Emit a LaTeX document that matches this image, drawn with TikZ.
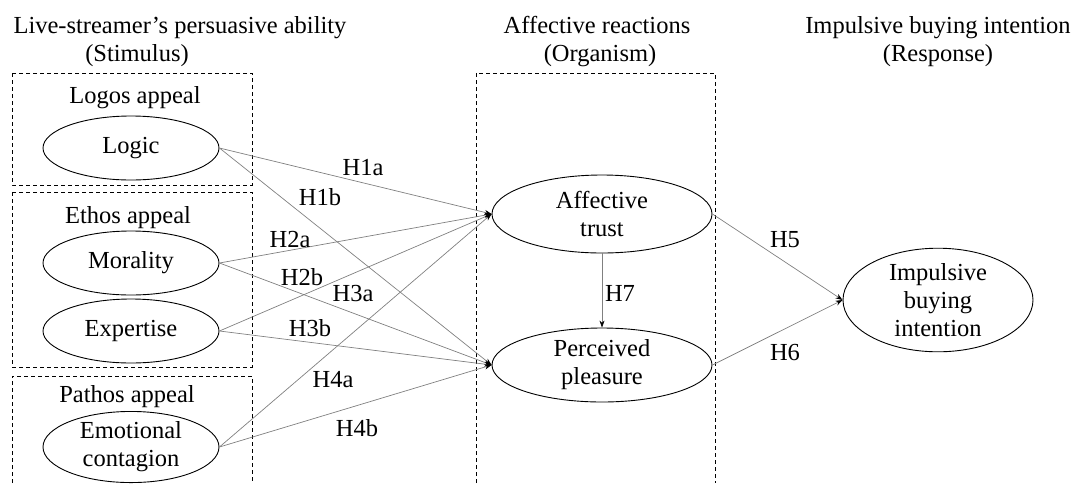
\documentclass[tikz,border=0pt]{standalone}
\usepackage{fontspec}
\setmainfont{Liberation Serif}
\usetikzlibrary{arrows.meta,positioning,shapes.geometric}
\definecolor{Ink}{HTML}{000000}
\definecolor{LinkGray}{HTML}{808080}
\tikzset{
  construct/.style={
    ellipse, draw=Ink, line width=0.9pt, inner sep=0pt,
    minimum width=176pt, minimum height=64pt, align=center
  },
  appeal/.style={draw=Ink, dash pattern=on 4pt off 3pt, line width=0.8pt},
  heading/.style={anchor=base, inner sep=0pt},
  hyp/.style={inner sep=0pt},
  link/.style={-{Stealth[length=7pt,width=5pt,color=Ink]}, draw=LinkGray, line width=0.7pt}
}

\begin{document}
\begin{tikzpicture}[x=1pt,y=-1pt,font=\fontsize{24.5}{28}\selectfont]
    \useasboundingbox (0,0) rectangle (1075,483);
    % headings
    \node[heading] (stimT) at (180,33) {Live-streamer’s persuasive ability};
    \node[heading] (stimS) at (137,61) {(Stimulus)};
    \node[heading] (orgT) at (597,33) {Affective reactions};
    \node[heading] (orgS) at (600,61) {(Organism)};
    \node[heading] (respT) at (938,33) {Impulsive buying intention};
    \node[heading] (respS) at (938,61) {(Response)};
    % dashed groups
    \draw[appeal] (12,73) rectangle (252,185);
    \draw[appeal] (12,192) rectangle (252,367);
    \draw[appeal] (12,483) |- (252,376) -- (252,483);
    \draw[appeal] (476,483) |- (715,73) -- (715,483);
    \node[heading] (logos) at (135,103) {Logos appeal};
    \node[heading] (ethos) at (128,223) {Ethos appeal};
    \node[heading] (pathos) at (127,402) {Pathos appeal};
    % constructs
    \node[construct] (logic) at (131,148) {Logic};
    \node[construct] (moral) at (131,263) {Morality};
    \node[construct] (expert) at (131,331) {Expertise};
    \node[construct] (emo) at (131,447) {Emotional\\contagion};
    \node[construct,minimum width=220pt,minimum height=78pt] (trust) at (602,214) {Affective\\trust};
    \node[construct,minimum width=220pt,minimum height=74pt] (pleas) at (602,365) {Perceived\\pleasure};
    \node[construct,minimum width=190pt,minimum height=96pt] (ibi) at (938,300) {Impulsive\\buying\\intention};
    % paths
    \foreach \src in {logic,moral,expert,emo}{
      \draw[link] (\src.east) -- (trust.west);
      \draw[link] (\src.east) -- (pleas.west);
    }
    \draw[link] (trust.east) -- (ibi.west);
    \draw[link] (pleas.east) -- (ibi.west);
    \draw[link] (trust.south) -- (pleas.north);
    % hypotheses
    \node[hyp] (h1a) at (363,168) {H1a};
    \node[hyp] (h1b) at (320,197) {H1b};
    \node[hyp] (h2a) at (290,240) {H2a};
    \node[hyp] (h2b) at (302,277) {H2b};
    \node[hyp] (h3a) at (353,293) {H3a};
    \node[hyp] (h3b) at (310,328) {H3b};
    \node[hyp] (h4a) at (333,380) {H4a};
    \node[hyp] (h4b) at (357,428) {H4b};
    \node[hyp] (h5) at (785,240) {H5};
    \node[hyp] (h6) at (785,352) {H6};
    \node[hyp] (h7) at (620,293) {H7};
\end{tikzpicture}
\end{document}
